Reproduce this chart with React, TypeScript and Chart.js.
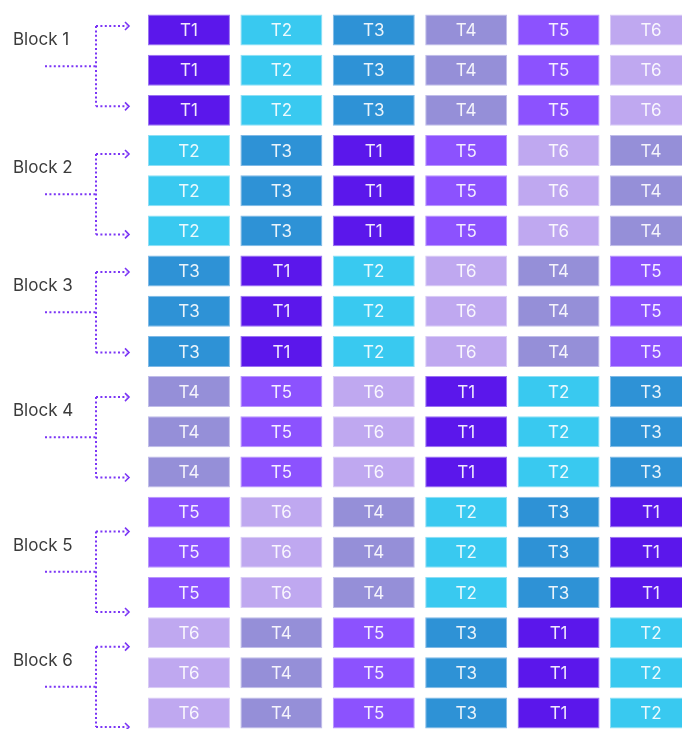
import React, { useEffect, useRef } from 'react';
import { Chart, registerables } from 'chart.js';

Chart.register(...registerables);

// ---------- data ----------
const blockLabels = ['Block 1', 'Block 2', 'Block 3', 'Block 4', 'Block 5', 'Block 6'];
const runsPerBlock = ['run 1', 'run 2', 'run 3'];
const taskTypes = ['T1', 'T2', 'T3', 'T4', 'T5', 'T6'];
const slotIndex = [0, 1, 2, 3, 4, 5];

const block1Order = ['T1', 'T2', 'T3', 'T4', 'T5', 'T6'];
const block2Order = ['T2', 'T3', 'T1', 'T5', 'T6', 'T4'];
const block3Order = ['T3', 'T1', 'T2', 'T6', 'T4', 'T5'];
const block4Order = ['T4', 'T5', 'T6', 'T1', 'T2', 'T3'];
const block5Order = ['T5', 'T6', 'T4', 'T2', 'T3', 'T1'];
const block6Order = ['T6', 'T4', 'T5', 'T3', 'T1', 'T2'];
const blockOrders = [block1Order, block2Order, block3Order, block4Order, block5Order, block6Order];

// ---------- styles ----------
const taskColors: Record<string, string> = {
  T1: '#5b17eb',
  T2: '#39c9f0',
  T3: '#2e92d6',
  T4: '#958fd8',
  T5: '#8c52fe',
  T6: '#bfa8f0',
};
const taskBorders: Record<string, string> = {
  T1: '#9a72f2',
  T2: '#8ddff5',
  T3: '#7fb9e6',
  T4: '#c0bde9',
  T5: '#b895fe',
  T6: '#d9cbf6',
};
const slotWidth = 0.887;
const bracketColor = '#7b35f5';
const bracketOffsetPx = [-4, 3.5, 1, 5.5, 19.5, 14];

const rowLabels = blockLabels.flatMap((b) => runsPerBlock.map((r) => `${b} ${r}`));
const rowBlock = blockLabels.flatMap((_, bi) => runsPerBlock.map(() => bi));

const cellLabelPlugin = {
  id: 'cellLabels',
  afterDatasetsDraw(chart: any) {
    const ctx = chart.ctx as CanvasRenderingContext2D;
    ctx.save();
    ctx.font = '17px Inter, "Noto Sans", sans-serif';
    ctx.fillStyle = 'rgba(255,255,255,0.9)';
    ctx.textAlign = 'center';
    ctx.textBaseline = 'middle';
    chart.data.datasets.forEach((ds: any, di: number) => {
      const meta = chart.getDatasetMeta(di);
      meta.data.forEach((el: any, i: number) => {
        const { x, base, y } = el.getProps(['x', 'base', 'y'], true);
        ctx.fillText(ds.taskLabels[i], (x + base) / 2, y + 1);
      });
    });
    ctx.restore();
  },
};

const bracketPlugin = {
  id: 'blockBrackets',
  afterDraw(chart: any) {
    const ctx = chart.ctx as CanvasRenderingContext2D;
    const yScale = chart.scales.y;
    const xV = 96;
    const xL = 45;
    const xR = 129;
    ctx.save();
    blockLabels.forEach((label, bi) => {
      const off = bracketOffsetPx[bi];
      const yTop = yScale.getPixelForValue(bi * 3) + off;
      const yMid = yScale.getPixelForValue(bi * 3 + 1) + off;
      const yBot = yScale.getPixelForValue(bi * 3 + 2) + off;

      ctx.strokeStyle = bracketColor;
      ctx.lineWidth = 2;
      ctx.setLineDash([2, 2.4]);
      ctx.lineCap = 'butt';
      ctx.beginPath();
      ctx.moveTo(xV, yTop);
      ctx.lineTo(xV, yBot);
      ctx.moveTo(xV, yTop);
      ctx.lineTo(xR - 2, yTop);
      ctx.moveTo(xV, yBot);
      ctx.lineTo(xR - 2, yBot);
      ctx.moveTo(xL, yMid);
      ctx.lineTo(xV, yMid);
      ctx.stroke();

      ctx.setLineDash([]);
      ctx.lineWidth = 1.6;
      ctx.beginPath();
      [yTop, yBot].forEach((yy) => {
        ctx.moveTo(xR - 4, yy - 4);
        ctx.lineTo(xR, yy);
        ctx.lineTo(xR - 4, yy + 4);
      });
      ctx.stroke();

      ctx.font = '17px Inter, "Noto Sans", sans-serif';
      ctx.fillStyle = '#3b3b3b';
      ctx.textAlign = 'left';
      ctx.textBaseline = 'middle';
      ctx.fillText(label, 13, yTop + 14);
    });
    ctx.restore();
  },
};

export default function App() {
  const canvasRef = useRef<HTMLCanvasElement | null>(null);

  useEffect(() => {
    if (!canvasRef.current) return;
    const datasets = slotIndex.map((slot) => ({
      label: `Slot ${slot + 1}`,
      data: rowLabels.map(() => [slot, slot + slotWidth]),
      taskLabels: rowBlock.map((bi) => blockOrders[bi][slot]),
      backgroundColor: rowBlock.map((bi) => taskColors[blockOrders[bi][slot]]),
      borderColor: rowBlock.map((bi) => taskBorders[blockOrders[bi][slot]]),
      borderWidth: 1,
      borderSkipped: false,
      grouped: false,
      categoryPercentage: 1,
      barPercentage: 0.77,
    }));

    const chart = new Chart(canvasRef.current, {
      type: 'bar',
      data: { labels: rowLabels, datasets: datasets as any },
      options: {
        indexAxis: 'y',
        animation: false,
        responsive: false,
        devicePixelRatio: window.devicePixelRatio || 1,
        layout: { padding: { left: 148, right: 1.6, top: 9.9, bottom: 6.9 } },
        scales: {
          x: { type: 'linear', min: 0, max: taskTypes.length, display: false },
          y: { type: 'category', display: false, offset: true },
        },
        plugins: {
          legend: { display: false },
          tooltip: { enabled: false },
        },
      },
      plugins: [cellLabelPlugin, bracketPlugin],
    });
    return () => chart.destroy();
  }, []);

  return (
    <div
      style={{
        position: 'absolute',
        left: 0,
        top: 0,
        width: 682,
        height: 729,
        overflow: 'hidden',
        background: '#ffffff',
      }}
    >
      <canvas ref={canvasRef} width={704} height={740} style={{ display: 'block', width: 704, height: 740 }} />
    </div>
  );
}
